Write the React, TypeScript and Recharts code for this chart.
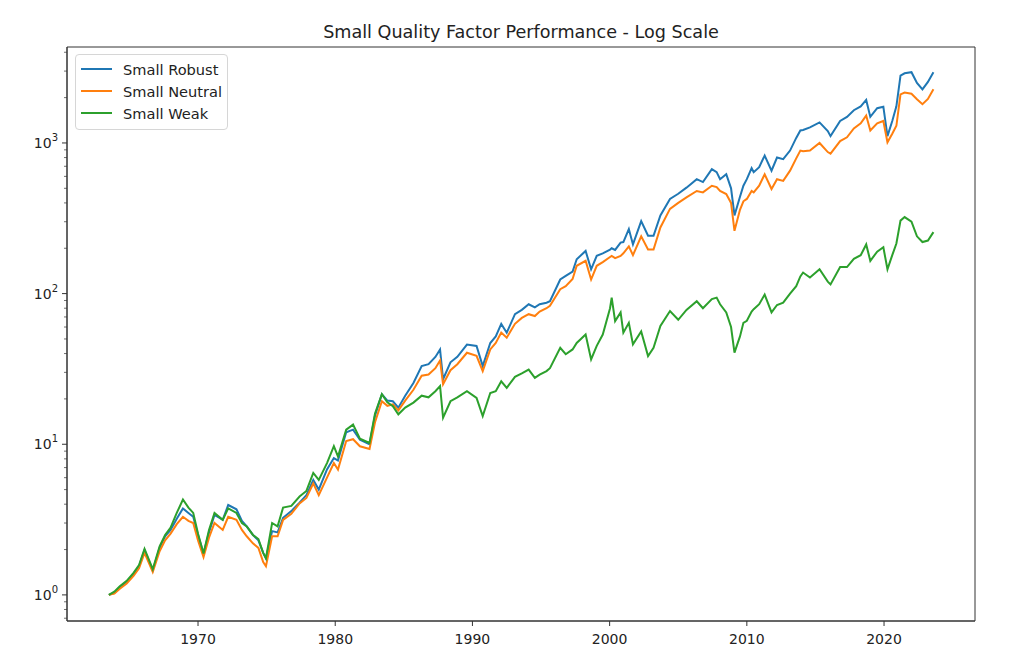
import { LineChart, Line, XAxis, YAxis, Legend, ReferenceArea } from 'recharts';

// time in decimal years, cumulative growth of $1
const dates = [
  1963.5, 1963.9, 1964.3, 1964.8, 1965.3, 1965.7, 1966.1, 1966.7, 1967.2, 1967.6,
  1968.0, 1968.45, 1968.9, 1969.3, 1969.65, 1970.0, 1970.4, 1970.8, 1971.2, 1971.8,
  1972.2, 1972.8, 1973.2, 1973.55, 1974.0, 1974.4, 1974.75, 1974.95, 1975.4, 1975.8,
  1976.2, 1976.8, 1977.4, 1977.9, 1978.4, 1978.8, 1979.4, 1979.9, 1980.2, 1980.8,
  1981.3, 1981.8, 1982.5, 1982.9, 1983.4, 1983.8, 1984.2, 1984.6, 1985.1, 1985.7,
  1986.3, 1986.8, 1987.3, 1987.64, 1987.86, 1988.4, 1988.9, 1989.6, 1990.3, 1990.75,
  1991.3, 1991.7, 1992.1, 1992.5, 1993.1, 1993.6, 1994.1, 1994.55, 1994.9, 1995.4,
  1995.65, 1996.4, 1996.8, 1997.3, 1997.6, 1998.25, 1998.65, 1999.06, 1999.5, 2000.03,
  2000.15, 2000.4, 2000.8, 2001.0, 2001.4, 2001.7, 2002.3, 2002.8, 2003.2, 2003.7,
  2004.4, 2005.0, 2005.6, 2006.35, 2006.8, 2007.45, 2007.8, 2008.05, 2008.5, 2008.85,
  2009.1, 2009.5, 2009.75, 2010.0, 2010.35, 2010.5, 2010.9, 2011.3, 2011.8, 2012.2,
  2012.65, 2013.15, 2013.6, 2013.9, 2014.1, 2014.6, 2015.3, 2015.9, 2016.1, 2016.8,
  2017.3, 2017.8, 2018.3, 2018.7, 2019.0, 2019.5, 2019.95, 2020.25, 2020.6, 2020.9,
  2021.2, 2021.5, 2022.0, 2022.4, 2022.8, 2023.2, 2023.6,
];

const smallRobust = [
  1.0, 1.03, 1.13, 1.22, 1.38, 1.55, 1.98, 1.45, 2.05, 2.45,
  2.7, 3.2, 3.75, 3.5, 3.3, 2.5, 1.88, 2.6, 3.4, 3.15,
  3.95, 3.7, 3.1, 2.85, 2.5, 2.3, 1.9, 1.75, 2.65, 2.6,
  3.25, 3.6, 4.1, 4.6, 5.8, 5.0, 6.8, 8.1, 7.8, 12.0,
  12.5, 10.7, 10.0, 15.5, 21.5, 19.5, 19.3, 17.5, 21.0, 25.5,
  33.0, 34.0, 38.0, 42.6, 27.0, 35.0, 38.0, 45.9, 44.9, 33.0,
  47.0, 52.0, 62.9, 55.0, 73.0, 78.0, 85.0, 81.0, 85.0, 87.0,
  89.0, 124, 131, 140, 169, 192, 145, 178, 185, 196,
  200, 195, 218, 220, 268, 212, 303, 242, 242, 330,
  425, 460, 505, 575, 550, 670, 640, 575, 620, 500,
  330, 440, 520, 575, 680, 640, 690, 825, 655, 800,
  780, 890, 1080, 1210, 1220, 1270, 1370, 1200, 1110, 1400,
  1490, 1650, 1750, 1930, 1490, 1700, 1740, 1110, 1400, 1750,
  2800, 2900, 2950, 2500, 2270, 2540, 2950,
];

const smallNeutral = [
  1.0, 1.02, 1.1, 1.19, 1.34, 1.5, 1.9, 1.42, 1.95, 2.3,
  2.55, 2.95, 3.3, 3.1, 3.0, 2.3, 1.78, 2.4, 3.0, 2.7,
  3.3, 3.15, 2.7, 2.45, 2.2, 2.05, 1.65, 1.55, 2.45, 2.45,
  3.15, 3.45, 4.05, 4.4, 5.5, 4.6, 6.0, 7.5, 6.8, 10.5,
  10.8, 9.7, 9.3, 14.0, 19.3, 18.0, 18.4, 16.8, 19.5, 23.0,
  28.5, 29.0, 32.0, 36.0, 25.0, 31.0, 34.0, 40.5, 38.6, 30.6,
  42.6, 47.0, 55.1, 51.0, 63.0, 69.0, 73.0, 71.0, 76.0, 80.0,
  83.0, 107, 112, 125, 153, 165, 124, 153, 162, 175,
  178, 172, 178, 185, 206, 180, 240, 196, 196, 275,
  365, 400, 435, 480, 470, 520, 510, 480, 458, 400,
  261, 360, 410, 425, 480, 470, 520, 620, 495, 575,
  560, 655, 790, 890, 880, 890, 1000, 870, 850, 1030,
  1090, 1250, 1350, 1520, 1210, 1350, 1400, 1010, 1150, 1300,
  2100, 2160, 2120, 1950, 1810, 1960, 2270,
];

const smallWeak = [
  1.0, 1.05, 1.14, 1.24, 1.4, 1.58, 2.02, 1.48, 2.1, 2.5,
  2.8, 3.5, 4.3, 3.8, 3.5, 2.55, 1.88, 2.7, 3.5, 3.15,
  3.75, 3.5, 3.0, 2.85, 2.5, 2.35, 1.9, 1.75, 3.0, 2.85,
  3.8, 3.9, 4.5, 4.9, 6.45, 5.8, 7.5, 9.7, 8.3, 12.5,
  13.5, 10.9, 10.2, 16.0, 21.5, 19.0, 17.9, 15.8, 17.5, 18.9,
  21.0, 20.5, 22.5, 24.3, 15.0, 19.3, 20.5, 22.5, 20.3, 15.4,
  21.9, 22.5, 26.2, 23.7, 28.0, 29.5, 31.3, 27.6, 29.0, 30.6,
  32.0, 43.7, 39.6, 42.6, 47.0, 53.5, 36.6, 45.0, 53.5, 80.0,
  94.0, 65.7, 75.0, 55.0, 64.0, 46.0, 56.0, 38.5, 43.7, 61.0,
  76.6, 67.0, 78.0, 89.0, 80.0, 92.0, 94.0, 85.0, 75.0, 60.0,
  40.6, 52.0, 64.0, 66.0, 76.0, 78.8, 85.0, 98.5, 75.0, 84.0,
  87.0, 100, 112, 130, 138, 128, 145, 120, 115, 150,
  150, 170, 180, 212, 165, 190, 203, 145, 180, 215,
  305, 322, 300, 240, 220, 225, 256,
];

const seriesOrder = ['Small Robust', 'Small Neutral', 'Small Weak'];
const yearTicks = [1970, 1980, 1990, 2000, 2010, 2020];
const logTicks = [
  0.7, 0.8, 0.9, 1, 2, 3, 4, 5, 6, 7, 8, 9,
  10, 20, 30, 40, 50, 60, 70, 80, 90,
  100, 200, 300, 400, 500, 600, 700, 800, 900,
  1000, 2000, 3000, 4000,
];

const xDomain = [1960.45, 2026.63];
const yDomain = [0.671, 4335];

const chartData = dates.map((t, i) => ({
  t,
  robust: smallRobust[i],
  neutral: smallNeutral[i],
  weak: smallWeak[i],
}));

const FONT = '"DejaVu Sans", sans-serif';

const YTick = ({ x, y, payload }: any) => {
  const lg = Math.log10(payload.value);
  const exp = Math.round(lg);
  const major = Math.abs(lg - exp) < 1e-6;
  return (
    <g>
      <line x1={x - (major ? 5 : 3)} x2={x} y1={y} y2={y} stroke="#333" strokeWidth={major ? 1 : 0.7} />
      {major && (
        <text x={x - 9} y={y} dy={5} textAnchor="end" fontSize={14} fill="#222" fontFamily={FONT}>
          10<tspan dy={-7} fontSize={10}>{exp}</tspan>
        </text>
      )}
    </g>
  );
};

const XTick = ({ x, y, payload }: any) => (
  <g>
    <line x1={x} x2={x} y1={y} y2={y + 5} stroke="#333" strokeWidth={1} />
    <text x={x} y={y + 23} textAnchor="middle" fontSize={14} fill="#222" fontFamily={FONT}>
      {payload.value}
    </text>
  </g>
);

const renderLegend = ({ payload }: any) => {
  const items = [...(payload || [])].sort(
    (a: any, b: any) => seriesOrder.indexOf(a.value) - seriesOrder.indexOf(b.value)
  );
  return (
    <div
      style={{
        boxSizing: 'border-box',
        width: 153,
        border: '1px solid #d6d6d6',
        borderRadius: 4,
        background: 'rgba(255,255,255,0.8)',
        padding: '3px 0 5px 5px',
        fontFamily: FONT,
        fontSize: 14.6,
        color: '#222',
        whiteSpace: 'nowrap',
      }}
    >
      {items.map((entry: any) => (
        <div key={entry.value} style={{ display: 'flex', alignItems: 'center', height: 22 }}>
          <span
            style={{ display: 'inline-block', flexShrink: 0, width: 31, height: 2, background: entry.color, marginRight: 11 }}
          />
          <span>{entry.value}</span>
        </div>
      ))}
    </div>
  );
};

export default function App() {
  return (
    <div style={{ position: 'relative', width: 1008, height: 652, background: '#fff' }}>
      <div
        style={{
          position: 'absolute',
          left: 59,
          width: 908,
          top: 14,
          textAlign: 'center',
          fontFamily: FONT,
          fontSize: 17.6,
          color: '#222',
          lineHeight: '20px',
        }}
      >
        Small Quality Factor Performance - Log Scale
      </div>
      <LineChart width={1008} height={652} data={chartData} margin={{ top: 39, right: 41, bottom: 9, left: 9 }}>
        <XAxis
          dataKey="t"
          type="number"
          domain={xDomain}
          allowDataOverflow
          ticks={yearTicks}
          interval={0}
          tickSize={0}
          tickMargin={0}
          height={30}
          stroke="#333"
          tick={<XTick />}
        />
        <YAxis
          type="number"
          scale="log"
          domain={yDomain}
          allowDataOverflow
          ticks={logTicks}
          interval={0}
          tickSize={0}
          tickMargin={0}
          width={50}
          stroke="#333"
          tick={<YTick />}
        />
        <ReferenceArea
          x1={xDomain[0]}
          x2={xDomain[1]}
          y1={yDomain[0]}
          y2={yDomain[1]}
          fill="none"
          stroke="#333"
          strokeWidth={1}
          ifOverflow="visible"
        />
        <Legend
          layout="vertical"
          align="center"
          verticalAlign="middle"
          wrapperStyle={{ left: 67, top: 46, width: 153 }}
          content={renderLegend}
        />
        <Line type="linear" dataKey="robust" name="Small Robust" stroke="#1f77b4" strokeWidth={2} dot={false} isAnimationActive={false} />
        <Line type="linear" dataKey="neutral" name="Small Neutral" stroke="#ff7f0e" strokeWidth={2} dot={false} isAnimationActive={false} />
        <Line type="linear" dataKey="weak" name="Small Weak" stroke="#2ca02c" strokeWidth={2} dot={false} isAnimationActive={false} />
      </LineChart>
    </div>
  );
}
